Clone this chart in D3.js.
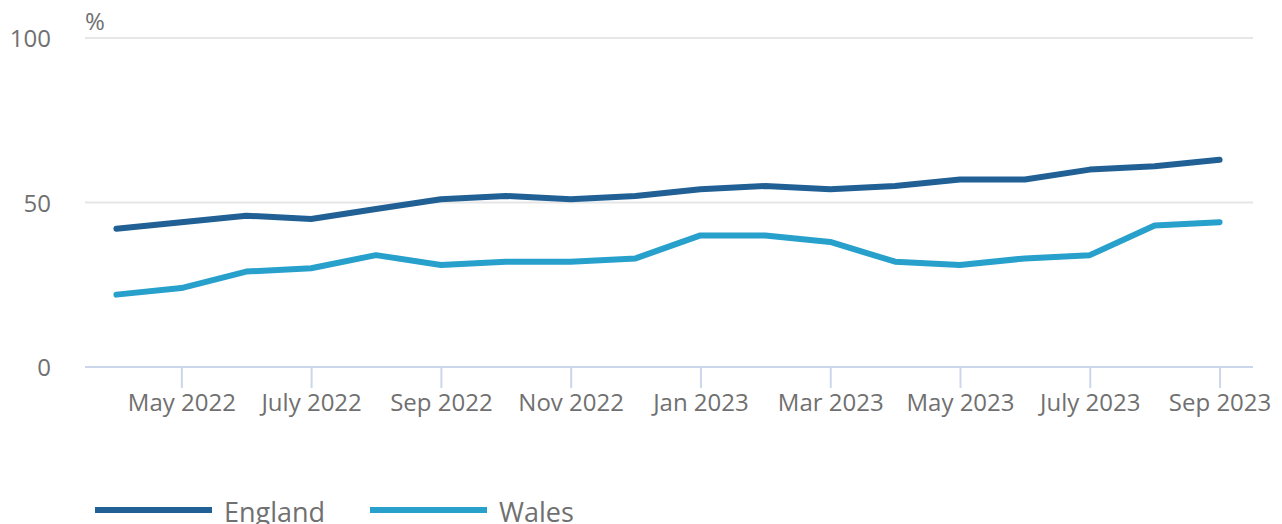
<!DOCTYPE html>
<html><head><meta charset="utf-8">
<script src="https://cdn.jsdelivr.net/npm/d3@7"></script>
<style>
html,body{margin:0;padding:0;background:#fff;}
text{font-family:"Open Sans",sans-serif;}
</style></head>
<body><svg id="c" width="1282" height="524"></svg>
<script>
const months = ["Apr 2022","May 2022","Jun 2022","July 2022","Aug 2022","Sep 2022","Oct 2022","Nov 2022","Dec 2022","Jan 2023","Feb 2023","Mar 2023","Apr 2023","May 2023","Jun 2023","July 2023","Aug 2023","Sep 2023"];
const england = [42,44,46,45,48,51,52,51,52,54,55,54,55,57,57,60,61,63];
const wales = [22,24,29,30,34,31,32,32,33,40,40,38,32,31,33,34,43,44];
const yTicks = [0,50,100];
const tickLabels = ["May 2022","July 2022","Sep 2022","Nov 2022","Jan 2023","Mar 2023","May 2023","July 2023","Sep 2023"];
const seriesNames = ["England","Wales"];
const colors = ["#206095","#27a0cc"];

const svg = d3.select("#c");
const x = d3.scalePoint().domain(months).range([84,1252]).padding(0.5);
const y = d3.scaleLinear().domain([0,100]).range([367,38]);

svg.append("g").selectAll("line").data(yTicks.filter(d=>d>0)).join("line")
  .attr("x1",85).attr("x2",1253).attr("y1",d=>y(d)).attr("y2",d=>y(d))
  .attr("stroke","#e6e6e6").attr("stroke-width",2);

svg.append("g").selectAll("text").data(yTicks).join("text")
  .attr("x",51).attr("y",d=>y(d)+9).attr("text-anchor","end")
  .attr("font-size",24).attr("fill","#707070").text(d=>d);
svg.append("text").attr("x",85).attr("y",30).attr("font-size",24).attr("fill","#707070").text("%");

const xAxis = d3.axisBottom(x).tickValues(tickLabels).tickSize(21).tickSizeOuter(0).tickPadding(6);
const gx = svg.append("g").attr("transform","translate(0,367)").call(xAxis);
gx.select(".domain").attr("stroke","#ccd6eb").attr("stroke-width",2).attr("d","M85,0H1253");
gx.selectAll(".tick line").attr("stroke","#ccd6eb").attr("stroke-width",2);
gx.selectAll(".tick text").attr("font-size",24).attr("fill","#707070").attr("font-family","'Open Sans',sans-serif");

const line = d3.line().x((d,i)=>x(months[i])).y(d=>y(d));
[england,wales].forEach((s,k)=>{
  svg.append("path").attr("d",line(s)).attr("fill","none").attr("stroke",colors[k])
    .attr("stroke-width",6).attr("stroke-linejoin","round").attr("stroke-linecap","round");
});

const lg = svg.append("g");
const lx = [95,370];
seriesNames.forEach((n,k)=>{
  lg.append("line").attr("x1",lx[k]).attr("x2",lx[k]+117).attr("y1",510).attr("y2",510)
    .attr("stroke",colors[k]).attr("stroke-width",6);
  lg.append("text").attr("x",lx[k]+129).attr("y",522).attr("font-size",27).attr("fill","#707070").text(n);
});
</script></body></html>
